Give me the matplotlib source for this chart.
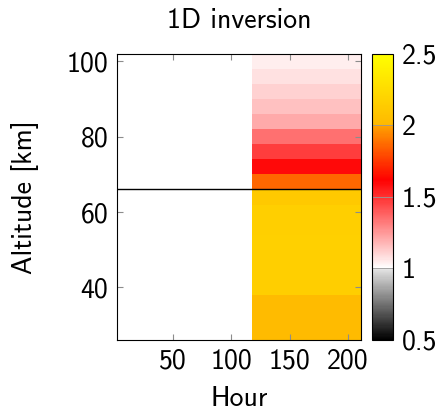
import numpy as np
import matplotlib
matplotlib.use("Agg")
import matplotlib.pyplot as plt
from matplotlib.colors import LinearSegmentedColormap

# data
altitude = np.arange(28, 101, 4)          # row centres [km]
ratio = [2.02, 2.02, 2.02, 2.15, 2.16, 2.16, 2.17, 2.16, 2.16, 2.12,
         1.86, 1.60, 1.47, 1.35, 1.21, 1.155, 1.11, 1.075, 1.04]
hour_edges = [118, 211]
line_alt = 66

plt.rcParams['font.family'] = ['cmss10', 'DejaVu Sans']
plt.rcParams['axes.unicode_minus'] = False
fs = 20

# colormap black -> white -> red -> orange -> yellow (0.5 .. 2.5)
cmap = LinearSegmentedColormap.from_list("inv", [
    (0.0, (0, 0, 0)),
    (0.25, (0.9, 0.9, 0.9)),
    (0.25, (1, 1, 1)),
    (0.56, (1, 0, 0)),
    (0.75, (1, 0.63, 0)),
    (0.75, (1, 0.72, 0)),
    (1.0, (1, 1, 0)),
])

y_edges = np.append(altitude - 2, altitude[-1] + 2)
C = np.array(ratio).reshape(-1, 1)

fig = plt.figure(figsize=(4.42, 4.12), dpi=100)
ax = fig.add_axes([0.264, 0.1748, 0.5527, 0.6942])
cax = fig.add_axes([0.8423, 0.1748, 0.0475, 0.6942])

mesh = ax.pcolormesh(hour_edges, y_edges, C, cmap=cmap, vmin=0.5, vmax=2.5)
ax.axhline(line_alt, color='k', lw=1.0)

ax.set_xlim(2, 211)
ax.set_ylim(26, 102)
ax.set_xticks([50, 100, 150, 200])
ax.set_yticks([40, 60, 80, 100])
ax.tick_params(direction='in', top=True, right=True, length=4, width=0.8,
               color='0.55', labelsize=fs, pad=6)
for s in ax.spines.values():
    s.set_linewidth(0.8)

ax.set_xlabel("Hour", fontsize=fs)
ax.set_ylabel("Altitude [km]", fontsize=fs)
ax.xaxis.set_label_coords(0.5, -0.16)
ax.yaxis.set_label_coords(-0.32, 0.5)
ax.set_title("1D inversion", fontsize=fs, pad=19)

cb = fig.colorbar(mesh, cax=cax)
cb.set_ticks([0.5, 1, 1.5, 2, 2.5])
cb.set_ticklabels(["0.5", "1", "1.5", "2", "2.5"])
cb.ax.tick_params(direction='in', length=15, width=0.6, color='0.6',
                  labelsize=fs, pad=6)
cb.outline.set_linewidth(0.8)

fig.savefig("out.png", dpi=100)
